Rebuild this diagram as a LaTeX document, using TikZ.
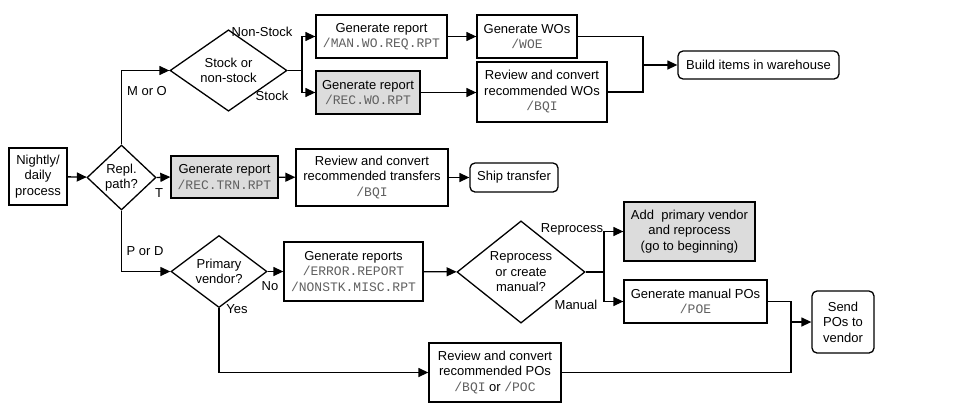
\documentclass[tikz,border=0pt]{standalone}
\usepackage{fontspec}
\setmainfont{Liberation Sans}
\setmonofont{Liberation Mono}
\usetikzlibrary{arrows.meta,shapes.geometric}
\definecolor{progc}{RGB}{96,96,96}
\definecolor{shade}{RGB}{220,220,220}
\newcommand{\prog}[1]{{\ttfamily\color{progc}#1}}

\begin{document}
\begin{tikzpicture}[x=1pt,y=-1pt,line width=1.3pt,
        >={Triangle[length=10pt,width=9pt]},
        every node/.style={font=\fontsize{13}{15.5}\selectfont,align=center,inner sep=0pt},
        box/.style={draw,fill=white,minimum width=#1},
        grey/.style={box=#1,fill=shade},
        term/.style={box=#1,rounded corners=5pt},
        decide/.style={draw,diamond,fill=white,minimum width=#1}]
        \useasboundingbox (0,0) rectangle (977,408);

        \node[box=58,minimum height=57](night)at(38,176.5){Nightly/\\daily\\process};
        \node[decide=69,minimum height=65](repl)at(121.5,177.5){Repl.\\path?};
        \node[decide=117,minimum height=65](stock)at(228.5,70.5){Stock or\\non-stock};
        \node[box=131,minimum height=43](manrpt)at(381.5,36.5){Generate report\\\prog{/MAN.WO.REQ.RPT}};
        \node[grey=104,minimum height=43](recwo)at(368,92.5){Generate report\\\prog{/REC.WO.RPT}};
        \node[box=100,minimum height=43](genwo)at(527,36.5){Generate WOs\\\prog{/WOE}};
        \node[box=130,minimum height=60](revwo)at(542,92){Review and convert\\recommended WOs\\\prog{/BQI}};
        \node[term=161,minimum height=28](build)at(758.5,65){Build items in warehouse};
        \node[grey=107,minimum height=42](rectrn)at(224.5,177){Generate report\\\prog{/REC.TRN.RPT}};
        \node[box=152,minimum height=57](revtrn)at(372,177.5){Review and convert\\recommended transfers\\\prog{/BQI}};
        \node[term=88,minimum height=29](ship)at(514,177.5){Ship transfer};
        \node[decide=96,minimum height=65](primary)at(219,271.5){Primary\\vendor?};
        \node[box=139,minimum height=59](genrpts)at(353.5,271.5){Generate reports\\\prog{/ERROR.REPORT}\\\prog{/NONSTK.MISC.RPT}};
        \node[decide=128,minimum height=98](reproc)at(521,272){Reprocess\\or create\\manual?};
        \node[grey=131,minimum height=59](addpv)at(689.5,231.5){Add\ \ primary vendor\\and reprocess\\(go to beginning)};
        \node[box=143,minimum height=43](manpo)at(695.5,301.5){Generate manual POs\\\prog{/POE}};
        \node[box=132,minimum height=59](revpo)at(495,372.5){Review and convert\\recommended POs\\\prog{/BQI} or \prog{/POC}};
        \node[term=62,minimum height=62](send)at(843,322){Send\\POs to\\vendor};

        \coordinate(sj)at(302,70.5);
        \coordinate(bj)at(643,65);
        \coordinate(rj)at(604,272);
        \coordinate(pj)at(791,322);

        \draw[->](night)--(repl);
        \draw[->](repl.north)|-(stock.west);
        \draw(stock.east)--(sj);
        \draw[->](sj)|-(manrpt.west);
        \draw[->](sj)|-(recwo.west);
        \draw[->](manrpt)--(genwo);
        \draw[->](recwo.east)--(revwo.west|-recwo.east);
        \draw(genwo.east)-|(bj);
        \draw(revwo.east)-|(bj);
        \draw[->](bj)--(build.west);
        \draw[->](repl.east)--(rectrn.west);
        \draw[->](rectrn)--(revtrn);
        \draw[->](revtrn)--(ship);
        \draw[->](repl.south)|-(primary.west);
        \draw[->](primary.east)--(genrpts.west);
        \draw[->](genrpts)--(reproc);
        \draw(reproc.east)--(rj);
        \draw[->](rj)|-(addpv.west);
        \draw[->](rj)|-(manpo.west);
        \draw[->](primary.south)|-(revpo.west);
        \draw(manpo.east)-|(pj);
        \draw(revpo.east)-|(pj);
        \draw[->](pj)--(send.west);

        \node(lmo)at(147,91){M or O};
        \node(lns)at(262,32){Non-Stock};
        \node(lst)at(272,96){Stock};
        \node(lt)at(159,193){T};
        \node(lpd)at(145,251){P or D};
        \node(lno)at(270,286){No};
        \node(lyes)at(237,309){Yes};
        \node(lrep)at(572,229){Reprocess};
        \node(lman)at(576,305){Manual};
    \end{tikzpicture}
\end{document}
